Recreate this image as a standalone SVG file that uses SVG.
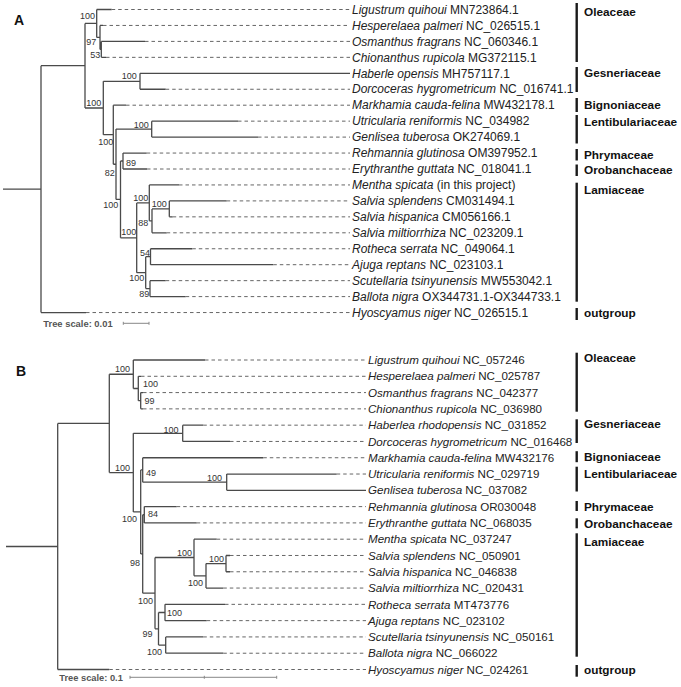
<svg xmlns="http://www.w3.org/2000/svg" width="681" height="687" viewBox="0 0 681 687">
<style>
.br{fill:none;stroke:#4a4a4a;stroke-width:1.3;}
.ds{fill:none;stroke:#666;stroke-width:1;stroke-dasharray:3.5 3;}
.la{font-family:"Liberation Sans",Arial,sans-serif;font-size:12px;fill:#222;}
.lb{font-family:"Liberation Sans",Arial,sans-serif;font-size:11.6px;fill:#222;}
.it{font-style:italic;}
.bs{font-family:"Liberation Sans",Arial,sans-serif;font-size:9px;fill:#333;text-anchor:middle;}
.fam{font-family:"Liberation Sans",Arial,sans-serif;font-size:11.8px;font-weight:bold;fill:#111;}
.bar{stroke:#1a1a1a;stroke-width:2.4;}
.pl{font-family:"Liberation Sans",Arial,sans-serif;font-size:14px;font-weight:bold;fill:#111;}
.sc{font-family:"Liberation Sans",Arial,sans-serif;font-size:9.4px;font-weight:bold;fill:#555;}
.scl{fill:none;stroke:#888;stroke-width:1;}
</style>
<rect width="681" height="687" fill="#fff"/>
<text class="pl" x="14" y="25">A</text>
<text class="pl" x="16" y="376">B</text>

<g id="connectors">
<g id="treeA">
<path class="br" d="M3,189.1H41 M41,65.7V312.55 M41,65.7H85 M41,312.55H86
M85,23.45V108 M85,23.45H96.7 M85,108H103.3
M96.7,9.5V37.4 M96.7,9.5H111.7 M96.7,37.4H100
M100,25.45V49.4 M100,25.45H103 M100,49.4H101.3
M101.3,41.4V57.35 M101.3,41.4H145 M101.3,57.35H106
M103.3,81.3V134.7 M103.3,81.3H140 M103.3,134.7H113.3
M140,73.3V89.25 M140,73.3H350 M140,89.25H165.7
M113.3,105.2V164.25 M113.3,105.2H126 M113.3,164.25H116
M116,129.1V199.4 M116,129.1H151.7 M116,199.4H120.5
M151.7,121.15V137.1 M151.7,121.15H238 M151.7,137.1H258
M120.5,161V237.8 M120.5,161H123 M120.5,237.8H136.7
M123,153.05V169 M123,153.05H146.7 M123,169H147
M136.7,202.9V272.7 M136.7,202.9H149.3 M136.7,272.7H145.7
M149.3,184.95V220.85 M149.3,184.95H179 M149.3,220.85H152
M152,208.9V232.8 M152,208.9H169.3 M152,232.8H166.7
M169.3,200.9V216.85 M169.3,200.9H226.7 M169.3,216.85H172.7
M145.7,256.7V288.6 M145.7,256.7H150.5 M145.7,288.6H150
M150.5,248.75V264.7 M150.5,248.75H192.3 M150.5,264.7H273.3
M150,280.65V296.6 M150,280.65H165.7 M150,296.6H185.7"/>
<path class="ds" d="M111.7,9.5H350 M103,25.45H350 M145,41.4H350 M106,57.35H350 M165.7,89.25H350 M126,105.2H350 M238,121.15H350 M258,137.1H350 M146.7,153.05H350 M147,169H350 M179,184.95H350 M226.7,200.9H350 M172.7,216.85H350 M166.7,232.8H350 M192.3,248.75H350 M273.3,264.7H350 M165.7,280.65H350 M185.7,296.6H350 M86,312.55H350"/>
</g>
<g id="treeB">
<path class="br" d="M6,546.5H57.7 M57.7,423.4V669.51 M57.7,423.4H109.3 M57.7,669.51H109.3
M109.3,374.25V472.6 M109.3,374.25H133.3 M109.3,472.6H133.3
M133.3,360V388.5 M133.3,360H205 M133.3,388.5H138.3
M138.3,376.29V400.7 M138.3,376.29H141 M138.3,400.7H140.7
M140.7,392.58V408.87 M140.7,392.58H143 M140.7,408.87H143
M133.3,433.3V511.96 M133.3,433.3H182.7 M133.3,511.96H140.7
M182.7,425.16V441.45 M182.7,425.16H203.3 M182.7,441.45H230
M140.7,469.97V553.95 M140.7,469.97H142.7 M140.7,553.95H142.7
M142.7,457.74V482.2 M142.7,457.74H263.3 M142.7,482.2H226.7
M226.7,474.03V490.32 M226.7,474.03H336.7 M226.7,490.32H366
M142.7,514.75V593.15 M142.7,514.75H144.3 M142.7,593.15H155
M144.3,506.61V522.9 M144.3,506.61H176.7 M144.3,522.9H196.7
M155,557.5V628.8 M155,557.5H194 M155,628.8H158.5
M194,539.19V575.8 M194,539.19H216.7 M194,575.8H206
M206,563.6V588.06 M206,563.6H226 M206,588.06H223.3
M226,555.48V571.77 M226,555.48H230 M226,571.77H230
M158.5,612.5V645.1 M158.5,612.5H165 M158.5,645.1H165.7
M165,604.35V620.64 M165,604.35H225 M165,620.64H206.7
M165.7,636.93V653.22 M165.7,636.93H203.3 M165.7,653.22H223.3"/>
<path class="ds" d="M205,360H366 M141,376.29H366 M143,392.58H366 M143,408.87H366 M203.3,425.16H366 M230,441.45H366 M263.3,457.74H366 M336.7,474.03H366 M176.7,506.61H366 M196.7,522.9H366 M216.7,539.19H366 M230,555.48H366 M230,571.77H366 M223.3,588.06H366 M225,604.35H366 M206.7,620.64H366 M203.3,636.93H366 M223.3,653.22H366 M109.3,669.51H366"/>
</g>
</g>

<g id="supportA">
<text class="bs" x="87.5" y="19.2">100</text>
<text class="bs" x="91.3" y="44.9">97</text>
<text class="bs" x="95.3" y="57.5">53</text>
<text class="bs" x="129.2" y="79.2">100</text>
<text class="bs" x="93.8" y="105.9">100</text>
<text class="bs" x="141.2" y="127.5">100</text>
<text class="bs" x="105.8" y="144.9">100</text>
<text class="bs" x="131" y="165.9">89</text>
<text class="bs" x="109.7" y="175.9">82</text>
<text class="bs" x="110.8" y="208.2">100</text>
<text class="bs" x="140.8" y="200.5">100</text>
<text class="bs" x="159.2" y="206.5">100</text>
<text class="bs" x="143.3" y="225.5">88</text>
<text class="bs" x="128.8" y="234.9">100</text>
<text class="bs" x="145" y="255.5">54</text>
<text class="bs" x="136.7" y="280.5">100</text>
<text class="bs" x="144.2" y="297.2">89</text>
</g>
<g id="supportB">
<text class="bs" x="122.5" y="371.5">100</text>
<text class="bs" x="150.5" y="386.5">100</text>
<text class="bs" x="149.5" y="404.2">99</text>
<text class="bs" x="171" y="432.5">100</text>
<text class="bs" x="122.5" y="470.9">100</text>
<text class="bs" x="151" y="475.5">49</text>
<text class="bs" x="214.5" y="480.9">100</text>
<text class="bs" x="153" y="517.2">84</text>
<text class="bs" x="129.5" y="521.5">100</text>
<text class="bs" x="135" y="565.9">98</text>
<text class="bs" x="145.5" y="604.2">100</text>
<text class="bs" x="184.5" y="555.9">100</text>
<text class="bs" x="216.5" y="561.5">100</text>
<text class="bs" x="195.5" y="585.5">100</text>
<text class="bs" x="174.5" y="615.9">100</text>
<text class="bs" x="147.5" y="636.5">99</text>
<text class="bs" x="154.5" y="654.9">100</text>
</g>

<g id="leavesA" class="la">
<g id="A-Ligustrum"><text x="352" y="13.7"><tspan class="it">Ligustrum quihoui</tspan> MN723864.1</text></g>
<g id="A-Hesperelaea"><text x="352" y="29.65"><tspan class="it">Hesperelaea palmeri</tspan> NC_026515.1</text></g>
<g id="A-Osmanthus"><text x="352" y="45.6"><tspan class="it">Osmanthus fragrans</tspan> NC_060346.1</text></g>
<g id="A-Chionanthus"><text x="352" y="61.55"><tspan class="it">Chionanthus rupicola</tspan> MG372115.1</text></g>
<g id="A-Haberle"><text x="352" y="77.5"><tspan class="it">Haberle opensis</tspan> MH757117.1</text></g>
<g id="A-Dorcoceras"><text x="352" y="93.45"><tspan class="it">Dorcoceras hygrometricum</tspan> NC_016741.1</text></g>
<g id="A-Markhamia"><text x="352" y="109.4"><tspan class="it">Markhamia cauda-felina</tspan> MW432178.1</text></g>
<g id="A-Utricularia"><text x="352" y="125.35"><tspan class="it">Utricularia reniformis</tspan> NC_034982</text></g>
<g id="A-Genlisea"><text x="352" y="141.3"><tspan class="it">Genlisea tuberosa</tspan> OK274069.1</text></g>
<g id="A-Rehmannia"><text x="352" y="157.25"><tspan class="it">Rehmannia glutinosa</tspan> OM397952.1</text></g>
<g id="A-Erythranthe"><text x="352" y="173.2"><tspan class="it">Erythranthe guttata</tspan> NC_018041.1</text></g>
<g id="A-Mentha"><text x="352" y="189.15"><tspan class="it">Mentha spicata</tspan> (in this project)</text></g>
<g id="A-Salvia-splendens"><text x="352" y="205.1"><tspan class="it">Salvia splendens</tspan> CM031494.1</text></g>
<g id="A-Salvia-hispanica"><text x="352" y="221.05"><tspan class="it">Salvia hispanica</tspan> CM056166.1</text></g>
<g id="A-Salvia-miltiorrhiza"><text x="352" y="237"><tspan class="it">Salvia miltiorrhiza</tspan> NC_023209.1</text></g>
<g id="A-Rotheca"><text x="352" y="252.95"><tspan class="it">Rotheca serrata</tspan> NC_049064.1</text></g>
<g id="A-Ajuga"><text x="352" y="268.9"><tspan class="it">Ajuga reptans</tspan> NC_023103.1</text></g>
<g id="A-Scutellaria"><text x="352" y="284.85"><tspan class="it">Scutellaria tsinyunensis</tspan> MW553042.1</text></g>
<g id="A-Ballota"><text x="352" y="300.8"><tspan class="it">Ballota nigra</tspan> OX344731.1-OX344733.1</text></g>
<g id="A-Hyoscyamus"><text x="352" y="316.75"><tspan class="it">Hyoscyamus niger</tspan> NC_026515.1</text></g>
</g>

<g id="leavesB" class="lb">
<g id="B-Ligustrum"><text x="368" y="364.1"><tspan class="it">Ligustrum quihoui</tspan> NC_057246</text></g>
<g id="B-Hesperelaea"><text x="368" y="380.4"><tspan class="it">Hesperelaea palmeri</tspan> NC_025787</text></g>
<g id="B-Osmanthus"><text x="368" y="396.7"><tspan class="it">Osmanthus fragrans</tspan> NC_042377</text></g>
<g id="B-Chionanthus"><text x="368" y="413"><tspan class="it">Chionanthus rupicola</tspan> NC_036980</text></g>
<g id="B-Haberlea"><text x="368" y="429.3"><tspan class="it">Haberlea rhodopensis</tspan> NC_031852</text></g>
<g id="B-Dorcoceras"><text x="368" y="445.6"><tspan class="it">Dorcoceras hygrometricum</tspan> NC_016468</text></g>
<g id="B-Markhamia"><text x="368" y="461.9"><tspan class="it">Markhamia cauda-felina</tspan> MW432176</text></g>
<g id="B-Utricularia"><text x="368" y="478.2"><tspan class="it">Utricularia reniformis</tspan> NC_029719</text></g>
<g id="B-Genlisea"><text x="368" y="494.4"><tspan class="it">Genlisea tuberosa</tspan> NC_037082</text></g>
<g id="B-Rehmannia"><text x="368" y="510.7"><tspan class="it">Rehmannia glutinosa</tspan> OR030048</text></g>
<g id="B-Erythranthe"><text x="368" y="527"><tspan class="it">Erythranthe guttata</tspan> NC_068035</text></g>
<g id="B-Mentha"><text x="368" y="543.3"><tspan class="it">Mentha spicata</tspan> NC_037247</text></g>
<g id="B-Salvia-splendens"><text x="368" y="559.6"><tspan class="it">Salvia splendens</tspan> NC_050901</text></g>
<g id="B-Salvia-hispanica"><text x="368" y="575.9"><tspan class="it">Salvia hispanica</tspan> NC_046838</text></g>
<g id="B-Salvia-miltiorrhiza"><text x="368" y="592.2"><tspan class="it">Salvia miltiorrhiza</tspan> NC_020431</text></g>
<g id="B-Rotheca"><text x="368" y="608.5"><tspan class="it">Rotheca serrata</tspan> MT473776</text></g>
<g id="B-Ajuga"><text x="368" y="624.8"><tspan class="it">Ajuga reptans</tspan> NC_023102</text></g>
<g id="B-Scutellaria"><text x="368" y="641.1"><tspan class="it">Scutellaria tsinyunensis</tspan> NC_050161</text></g>
<g id="B-Ballota"><text x="368" y="657.4"><tspan class="it">Ballota nigra</tspan> NC_066022</text></g>
<g id="B-Hyoscyamus"><text x="368" y="673.7"><tspan class="it">Hyoscyamus niger</tspan> NC_024261</text></g>
</g>

<g id="familiesA">
<g id="A-Oleaceae"><line class="bar" x1="576.7" y1="3" x2="576.7" y2="62"/><text class="fam" x="584" y="15.9">Oleaceae</text></g>
<g id="A-Gesneriaceae"><line class="bar" x1="576.7" y1="67" x2="576.7" y2="92"/><text class="fam" x="584" y="76.9">Gesneriaceae</text></g>
<g id="A-Bignoniaceae"><line class="bar" x1="576.7" y1="98" x2="576.7" y2="112"/><text class="fam" x="584" y="109.2">Bignoniaceae</text></g>
<g id="A-Lentibulariaceae"><line class="bar" x1="576.7" y1="115" x2="576.7" y2="143.5"/><text class="fam" x="584" y="125.5">Lentibulariaceae</text></g>
<g id="A-Phrymaceae"><line class="bar" x1="576.7" y1="149" x2="576.7" y2="160.5"/><text class="fam" x="584" y="159.2">Phrymaceae</text></g>
<g id="A-Orobanchaceae"><line class="bar" x1="576.7" y1="164.5" x2="576.7" y2="176"/><text class="fam" x="584" y="174.2">Orobanchaceae</text></g>
<g id="A-Lamiaceae"><line class="bar" x1="576.7" y1="182.7" x2="576.7" y2="301.7"/><text class="fam" x="584" y="193.5">Lamiaceae</text></g>
<g id="A-outgroup"><line class="bar" x1="576.7" y1="308" x2="576.7" y2="320"/><text class="fam" x="584" y="317.2">outgroup</text></g>
</g>
<g id="familiesB">
<g id="B-Oleaceae"><line class="bar" x1="576.7" y1="352.7" x2="576.7" y2="411.7"/><text class="fam" x="584" y="361.5">Oleaceae</text></g>
<g id="B-Gesneriaceae"><line class="bar" x1="576.7" y1="419.3" x2="576.7" y2="443"/><text class="fam" x="584" y="427.5">Gesneriaceae</text></g>
<g id="B-Bignoniaceae"><line class="bar" x1="576.7" y1="451.2" x2="576.7" y2="462.2"/><text class="fam" x="584" y="461">Bignoniaceae</text></g>
<g id="B-Lentibulariaceae"><line class="bar" x1="576.7" y1="466.7" x2="576.7" y2="491.5"/><text class="fam" x="584" y="477.5">Lentibulariaceae</text></g>
<g id="B-Phrymaceae"><line class="bar" x1="576.7" y1="501" x2="576.7" y2="511"/><text class="fam" x="584" y="510.5">Phrymaceae</text></g>
<g id="B-Orobanchaceae"><line class="bar" x1="576.7" y1="518.3" x2="576.7" y2="528.3"/><text class="fam" x="584" y="528.2">Orobanchaceae</text></g>
<g id="B-Lamiaceae"><line class="bar" x1="576.7" y1="533.3" x2="576.7" y2="656.7"/><text class="fam" x="584" y="545.9">Lamiaceae</text></g>
<g id="B-outgroup"><line class="bar" x1="576.7" y1="665" x2="576.7" y2="676.7"/><text class="fam" x="584" y="674.2">outgroup</text></g>
</g>

<g id="scaleA">
<text class="sc" x="43.3" y="326.6">Tree scale: 0.01</text>
<path class="scl" d="M123.3,323.3H149 M123.3,321.8V324.8 M149,321.8V324.8"/>
</g>
<g id="scaleB">
<text class="sc" x="59.3" y="680.6" style="font-size:9.3px">Tree scale: 0.1</text>
<path class="scl" d="M130,677.3H276.7 M130,675.8V678.8 M204.3,675.8V678.8 M276.7,675.8V678.8"/>
</g>
</svg>
